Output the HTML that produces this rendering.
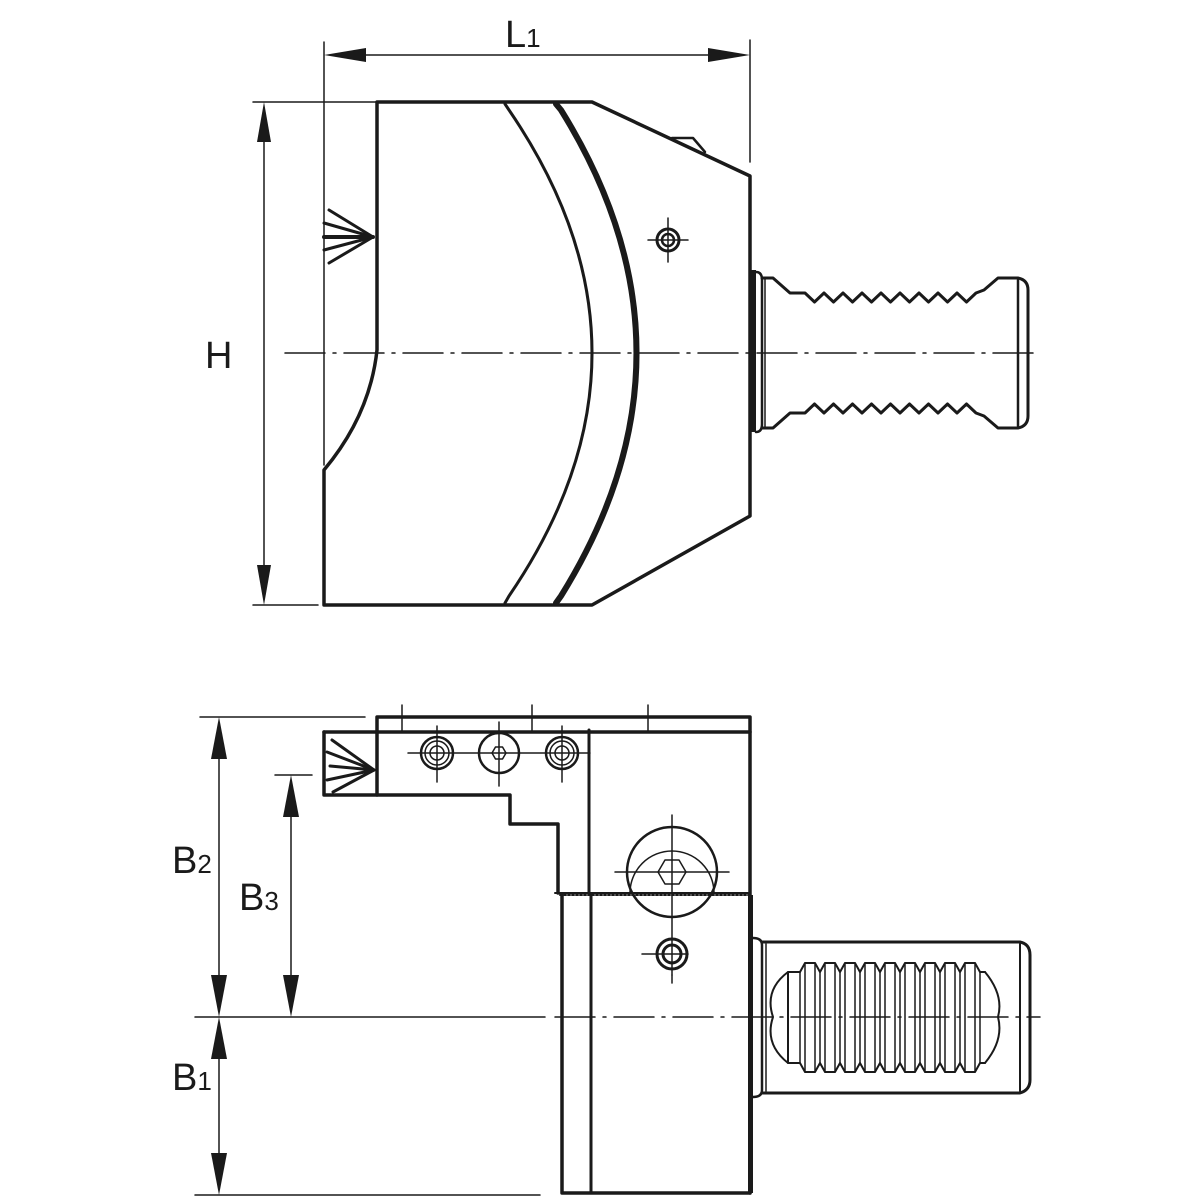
<!DOCTYPE html>
<html><head><meta charset="utf-8"><style>
html,body{margin:0;padding:0;background:#fff;width:1200px;height:1200px;overflow:hidden}
svg{display:block}
text{font-family:"Liberation Sans","DejaVu Sans",sans-serif;fill:#1a1a1a}
</style></head><body>
<svg width="1200" height="1200" viewBox="0 0 1200 1200" xmlns="http://www.w3.org/2000/svg">
<g fill="none" stroke="#1a1a1a" stroke-linejoin="round" stroke-linecap="round">
<g stroke-width="1.5">
<line x1="324" y1="42" x2="324" y2="465"/>
<line x1="750" y1="40" x2="750" y2="162"/>
<line x1="365" y1="55" x2="710" y2="55"/>
<line x1="253" y1="102" x2="377" y2="102"/>
<line x1="253" y1="605" x2="318" y2="605"/>
<line x1="264" y1="140" x2="264" y2="565"/>
</g>
<path d="M377 102 L592 102 L750 176 L750 516 L592 605 L324 605 L324 470 Q370 415 377 350 Z" stroke-width="3.5"/>
<path d="M672 138 L693 138 L705 152" stroke-width="2.5"/>
<path d="M505 104 L509 110 Q675 353 509 596 L505 603" stroke-width="3"/>
<path d="M556 104 L561 110 Q712 353 561 596 L556 603" stroke-width="6"/>
<g stroke-width="3">
<line x1="373" y1="237" x2="329" y2="210"/>
<line x1="373" y1="237" x2="324" y2="223"/>
<line x1="373" y1="237" x2="324" y2="237" stroke-width="4"/>
<line x1="373" y1="237" x2="324" y2="250"/>
<line x1="373" y1="237" x2="329" y2="263"/>
</g>
<circle cx="668" cy="240" r="11" stroke-width="3"/>
<circle cx="668" cy="240" r="6" stroke-width="2.5"/>
<line x1="648" y1="240" x2="688" y2="240" stroke-width="1.5"/>
<line x1="668" y1="218" x2="668" y2="262" stroke-width="1.5"/>
<rect x="750" y="270" width="6" height="162" fill="#1a1a1a" stroke="none"/>
<path d="M756 272 Q762 272 762 280 L762 424 Q762 432 756 432" stroke-width="2.5"/>
<line x1="765" y1="278" x2="765" y2="428" stroke-width="1.5"/>
<path d="M762 278 L773 278 L790 293 L805 293 L814.5 302 L824 293 L833.5 302 L843 293 L852.5 302 L862 293 L871.5 302 L881 293 L890.5 302 L900 293 L909.5 302 L919 293 L928.5 302 L938 293 L947.5 302 L957 293 L966.5 302 L976 293 L984 290 L998 278 L1018 278 Q1028 280 1028 290 L1028 416 Q1028 426 1018 428 L998 428 L984 416 L976 413 L966.5 404 L957 413 L947.5 404 L938 413 L928.5 404 L919 413 L909.5 404 L900 413 L890.5 404 L881 413 L871.5 404 L862 413 L852.5 404 L843 413 L833.5 404 L824 413 L814.5 404 L805 413 L790 413 L773 428 L762 428" stroke-width="3"/>
<line x1="1018" y1="280" x2="1018" y2="426" stroke-width="2.5"/>
<line x1="285" y1="353" x2="1040" y2="353" stroke-width="1.5" stroke-dasharray="40,8,3,8"/>

<g stroke-width="1.5">
<line x1="200" y1="717" x2="365" y2="717"/>
<line x1="275" y1="775" x2="312" y2="775"/>
<line x1="195" y1="1017" x2="545" y2="1017"/>
<line x1="195" y1="1195" x2="540" y2="1195"/>
<line x1="219" y1="757" x2="219" y2="977"/>
<line x1="291" y1="815" x2="291" y2="977"/>
<line x1="219" y1="1057" x2="219" y2="1155"/>
<line x1="402" y1="705" x2="402" y2="732"/>
<line x1="532" y1="705" x2="532" y2="732"/>
<line x1="648" y1="705" x2="648" y2="732"/>
</g>
<path d="M377 732 L377 717 L750 717 L750 1193" stroke-width="3.5"/>
<line x1="324" y1="732" x2="750" y2="732" stroke-width="3.5"/>
<line x1="589" y1="730" x2="589" y2="893" stroke-width="3"/>
<path d="M377 732 L377 795 L324 795 L324 732" stroke-width="3.5"/>
<path d="M377 795 L510 795 L510 824 L558 824 L558 893" stroke-width="3.5"/>
<g stroke-width="3">
<line x1="374" y1="770" x2="332" y2="740"/>
<line x1="374" y1="770" x2="327" y2="752"/>
<line x1="374" y1="770" x2="330" y2="766"/>
<line x1="374" y1="770" x2="327" y2="780"/>
<line x1="374" y1="770" x2="333" y2="792"/>
</g>
<line x1="555" y1="893" x2="750" y2="893" stroke-width="2"/>
<line x1="560" y1="895" x2="750" y2="895" stroke-width="2" stroke-dasharray="2,2"/>
<path d="M562 895 L562 1193 L750 1193" stroke-width="3.5"/>
<line x1="591" y1="895" x2="591" y2="1193" stroke-width="3"/>
<rect x="748" y="895" width="5" height="298" fill="#1a1a1a" stroke="none"/>
<g stroke-width="2.5">
<circle cx="437" cy="753" r="16"/><circle cx="437" cy="753" r="12" stroke-width="1.5"/><circle cx="437" cy="753" r="7" stroke-width="1.5"/>
<circle cx="499" cy="753" r="20"/><polygon points="492,753 495.5,747 502.5,747 506,753 502.5,759 495.5,759" stroke-width="1.5"/>
<circle cx="562" cy="753" r="16"/><circle cx="562" cy="753" r="12" stroke-width="1.5"/><circle cx="562" cy="753" r="7" stroke-width="1.5"/>
</g>
<g stroke-width="1.5">
<line x1="408" y1="753" x2="590" y2="753"/>
<line x1="437" y1="726" x2="437" y2="782"/>
<line x1="499" y1="722" x2="499" y2="786"/>
<line x1="562" y1="726" x2="562" y2="782"/>
</g>
<circle cx="672" cy="872" r="45" stroke-width="2.5"/>
<path d="M630 893 A42 42 0 0 1 714 893" stroke-width="1.5"/>
<polygon points="658,872 665,860 679,860 686,872 679,884 665,884" stroke-width="1.5"/>
<line x1="615" y1="872" x2="729" y2="872" stroke-width="1.5"/>
<line x1="672" y1="815" x2="672" y2="975" stroke-width="1.5"/>
<circle cx="672" cy="954" r="15" stroke-width="3"/>
<circle cx="672" cy="954" r="9" stroke-width="3"/>
<line x1="642" y1="954" x2="688" y2="954" stroke-width="1.5"/>
<line x1="672" y1="975" x2="672" y2="983" stroke-width="1.5"/>
<path d="M753 938 Q762 938 762 945 L762 1090 Q762 1097 753 1097" stroke-width="2.5"/>
<path d="M762 942 L1020 942 Q1030 944 1030 955 L1030 1080 Q1030 1090 1020 1093 L762 1093" stroke-width="3"/>
<line x1="766" y1="944" x2="766" y2="1091" stroke-width="1.5"/>
<line x1="1020" y1="944" x2="1020" y2="1091" stroke-width="2"/>
<path d="M788 972 Q764 990 773 1017 Q764 1044 788 1063 Z" stroke-width="2"/>
<path d="M985 972 Q1004 995 998 1017 Q1004 1040 985 1063" stroke-width="2"/>
<g stroke-width="2">
<path d="M800 972 L805 963 L815 963 L820 972 L825 963 L835 963 L840 972 L845 963 L855 963 L860 972 L865 963 L875 963 L880 972 L885 963 L895 963 L900 972 L905 963 L915 963 L920 972 L925 963 L935 963 L940 972 L945 963 L955 963 L960 972 L965 963 L975 963 L980 972 L985 972"/>
<path d="M788 972 L800 972"/>
<path d="M788 1063 L800 1063 L805 1072 L815 1072 L820 1063 L825 1072 L835 1072 L840 1063 L845 1072 L855 1072 L860 1063 L865 1072 L875 1072 L880 1063 L885 1072 L895 1072 L900 1063 L905 1072 L915 1072 L920 1063 L925 1072 L935 1072 L940 1063 L945 1072 L955 1072 L960 1063 L965 1072 L975 1072 L980 1063 L985 1063"/>
</g>
<g stroke-width="1.5">
<path d="M805 963V1072M815 963V1072M820 972V1063M825 963V1072M835 963V1072M840 972V1063M845 963V1072M855 963V1072M860 972V1063M865 963V1072M875 963V1072M880 972V1063M885 963V1072M895 963V1072M900 972V1063M905 963V1072M915 963V1072M920 972V1063M925 963V1072M935 963V1072M940 972V1063M945 963V1072M955 963V1072M960 972V1063M965 963V1072M975 963V1072M980 972V1063M800 972V1063"/>
</g>
<line x1="555" y1="1017" x2="1040" y2="1017" stroke-width="1.5" stroke-dasharray="40,8,3,8"/>
</g>

<g fill="#1a1a1a" stroke="none">
<polygon points="324,55 366,48 366,62"/>
<polygon points="750,55 708,48 708,62"/>
<polygon points="264,102 257,142 271,142"/>
<polygon points="264,605 257,565 271,565"/>
<polygon points="219,717 211,759 227,759"/>
<polygon points="219,1017 211,975 227,975"/>
<polygon points="291,775 283,817 299,817"/>
<polygon points="291,1017 283,975 299,975"/>
<polygon points="219,1017 211,1059 227,1059"/>
<polygon points="219,1195 211,1153 227,1153"/>
</g>

<text x="505" y="47" font-size="38">L<tspan font-size="26">1</tspan></text>
<text x="205" y="368" font-size="38">H</text>
<text x="172" y="873" font-size="38">B<tspan font-size="26">2</tspan></text>
<text x="239" y="910" font-size="38">B<tspan font-size="26">3</tspan></text>
<text x="172" y="1090" font-size="38">B<tspan font-size="26">1</tspan></text>
</svg>
</body></html>
